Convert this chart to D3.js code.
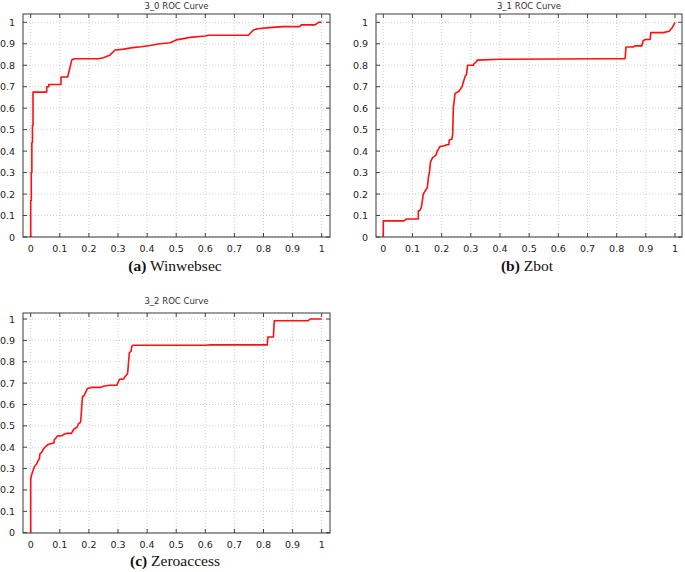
<!DOCTYPE html>
<html>
<head>
<meta charset="utf-8">
<script src="https://cdn.jsdelivr.net/npm/d3@7"></script>
<style>
  html, body { margin: 0; padding: 0; background: #fff; }
  svg { display: block; }
</style>
</head>
<body>
<svg id="chart" width="685" height="572"></svg>
<script>
// ---------- data ----------
const tickValues = [0, 0.1, 0.2, 0.3, 0.4, 0.5, 0.6, 0.7, 0.8, 0.9, 1];
const tickLabels = ["0", "0.1", "0.2", "0.3", "0.4", "0.5", "0.6", "0.7", "0.8", "0.9", "1"];

const panelTitles = ["3_0 ROC Curve", "3_1 ROC Curve", "3_2 ROC Curve"];
const captionLetters = ["(a)", "(b)", "(c)"];
const captionNames = ["Winwebsec", "Zbot", "Zeroaccess"];

// ROC points [false positive rate, true positive rate]
const rocWinwebsec = [
  [0,0],[0,0.17],[0.002,0.17],[0.002,0.30],[0.004,0.30],[0.004,0.44],[0.006,0.44],[0.006,0.52],
  [0.008,0.52],[0.008,0.675],[0.055,0.675],[0.055,0.70],[0.062,0.70],[0.062,0.71],[0.104,0.71],
  [0.104,0.745],[0.127,0.745],[0.141,0.824],[0.15,0.83],[0.233,0.83],[0.25,0.835],[0.273,0.848],
  [0.29,0.871],[0.32,0.875],[0.35,0.882],[0.38,0.886],[0.41,0.892],[0.444,0.90],[0.48,0.905],
  [0.50,0.918],[0.53,0.925],[0.548,0.930],[0.60,0.936],[0.61,0.94],[0.748,0.94],[0.765,0.964],
  [0.78,0.97],[0.82,0.975],[0.868,0.98],[0.925,0.98],[0.93,0.988],[0.977,0.988],[0.989,1.0],[1.0,1.0]
];
const rocZbot = [
  [0,0],[0,0.075],[0.071,0.075],[0.08,0.084],[0.12,0.084],[0.12,0.121],[0.126,0.125],[0.131,0.141],
  [0.137,0.2],[0.146,0.22],[0.151,0.23],[0.155,0.281],[0.158,0.30],[0.162,0.351],[0.169,0.37],
  [0.18,0.38],[0.185,0.40],[0.194,0.421],[0.21,0.425],[0.217,0.43],[0.225,0.43],[0.226,0.452],
  [0.235,0.455],[0.238,0.48],[0.24,0.60],[0.246,0.669],[0.255,0.675],[0.26,0.68],[0.265,0.69],
  [0.27,0.70],[0.274,0.72],[0.281,0.75],[0.285,0.755],[0.289,0.80],[0.309,0.80],[0.31,0.805],
  [0.318,0.815],[0.322,0.824],[0.40,0.828],[0.75,0.83],[0.829,0.83],[0.832,0.885],[0.857,0.885],
  [0.863,0.89],[0.886,0.89],[0.891,0.915],[0.90,0.92],[0.915,0.92],[0.917,0.952],[0.96,0.952],
  [0.98,0.958],[0.99,0.975],[0.995,0.985],[1.0,1.0]
];
const rocZeroaccess = [
  [0,0],[0,0.25],[0.003,0.27],[0.008,0.29],[0.013,0.31],[0.02,0.32],[0.023,0.33],[0.03,0.348],
  [0.032,0.37],[0.037,0.375],[0.043,0.39],[0.049,0.40],[0.057,0.41],[0.065,0.415],[0.072,0.418],
  [0.08,0.42],[0.081,0.435],[0.088,0.445],[0.092,0.452],[0.11,0.455],[0.112,0.46],[0.124,0.465],
  [0.14,0.465],[0.144,0.475],[0.149,0.485],[0.155,0.49],[0.16,0.495],[0.164,0.51],[0.17,0.515],
  [0.172,0.523],[0.176,0.60],[0.178,0.637],[0.183,0.64],[0.19,0.66],[0.195,0.675],[0.21,0.68],
  [0.24,0.68],[0.25,0.685],[0.27,0.69],[0.296,0.69],[0.305,0.718],[0.32,0.72],[0.324,0.73],
  [0.33,0.74],[0.333,0.745],[0.339,0.842],[0.345,0.85],[0.347,0.87],[0.35,0.877],[0.60,0.877],
  [0.62,0.879],[0.813,0.879],[0.815,0.916],[0.834,0.916],[0.837,0.992],[0.954,0.992],[0.96,1.0],[1.0,1.0]
];
const rocSeries = [rocWinwebsec, rocZbot, rocZeroaccess];

// ---------- layout ----------
const layouts = [
  { frame: [23, 14, 330, 237], x: [30.7, 321.7], y: [237, 22.3], titleY: 9,   capX: 175, capY: 271 },
  { frame: [376, 14, 682, 237], x: [383.3, 675], y: [237, 22.3], titleY: 9,  capX: 527, capY: 271 },
  { frame: [23, 313, 330, 533], x: [30.7, 321.7], y: [532.7, 319], titleY: 304, capX: 175, capY: 566 }
];

const svg = d3.select("#chart");

layouts.forEach((L, i) => {
  const [fx0, fy0, fx1, fy1] = L.frame;
  const x = d3.scaleLinear().domain([0, 1]).range(L.x);
  const y = d3.scaleLinear().domain([0, 1]).range(L.y);
  const g = svg.append("g");

  // grid
  g.selectAll(".gx").data(tickValues).enter().append("line")
    .attr("x1", d => x(d)).attr("x2", d => x(d))
    .attr("y1", fy0).attr("y2", fy1)
    .attr("stroke", "#c4c4c4").attr("stroke-width", 0.8).attr("stroke-dasharray", "1,2");
  g.selectAll(".gy").data(tickValues).enter().append("line")
    .attr("x1", fx0).attr("x2", fx1)
    .attr("y1", d => y(d)).attr("y2", d => y(d))
    .attr("stroke", "#c4c4c4").attr("stroke-width", 0.8).attr("stroke-dasharray", "1,2");

  // tick marks (inward, mirrored)
  const tl = 4;
  tickValues.forEach(v => {
    g.append("line").attr("x1", x(v)).attr("x2", x(v)).attr("y1", fy1).attr("y2", fy1 - tl)
      .attr("stroke", "#444").attr("stroke-width", 1);
    g.append("line").attr("x1", x(v)).attr("x2", x(v)).attr("y1", fy0).attr("y2", fy0 + tl)
      .attr("stroke", "#444").attr("stroke-width", 1);
    g.append("line").attr("y1", y(v)).attr("y2", y(v)).attr("x1", fx0).attr("x2", fx0 + tl)
      .attr("stroke", "#444").attr("stroke-width", 1);
    g.append("line").attr("y1", y(v)).attr("y2", y(v)).attr("x1", fx1).attr("x2", fx1 - tl)
      .attr("stroke", "#444").attr("stroke-width", 1);
  });

  // curve
  const line = d3.line().x(d => x(d[0])).y(d => y(d[1]));
  g.append("path").datum(rocSeries[i]).attr("d", line)
    .attr("fill", "none").attr("stroke", "#ff1010").attr("stroke-width", 1.6)
    .attr("stroke-linejoin", "round");

  // frame
  g.append("rect").attr("x", fx0).attr("y", fy0).attr("width", fx1 - fx0).attr("height", fy1 - fy0)
    .attr("fill", "none").attr("stroke", "#3a3a3a").attr("stroke-width", 1);

  // tick labels
  g.selectAll(".xl").data(tickValues).enter().append("text")
    .attr("x", d => x(d)).attr("y", fy1 + 15)
    .attr("text-anchor", "middle")
    .attr("font-family", "DejaVu Sans, sans-serif").attr("font-size", "9.5px").attr("fill", "#222")
    .text((d, k) => tickLabels[k]);
  g.selectAll(".yl").data(tickValues).enter().append("text")
    .attr("x", fx0 - 8).attr("y", d => y(d) + 3.5)
    .attr("text-anchor", "end")
    .attr("font-family", "DejaVu Sans, sans-serif").attr("font-size", "9.5px").attr("fill", "#222")
    .text((d, k) => tickLabels[k]);

  // title
  g.append("text").attr("x", (fx0 + fx1) / 2).attr("y", L.titleY)
    .attr("text-anchor", "middle")
    .attr("font-family", "DejaVu Sans, sans-serif").attr("font-size", "8.5px").attr("fill", "#333")
    .text(panelTitles[i]);

  // caption
  const cap = g.append("text").attr("x", L.capX).attr("y", L.capY)
    .attr("text-anchor", "middle")
    .attr("font-family", "Liberation Serif, serif").attr("font-size", "15.5px").attr("fill", "#111");
  cap.append("tspan").attr("font-weight", "bold").text(captionLetters[i]);
  cap.append("tspan").text(" " + captionNames[i]);
});
</script>
</body>
</html>
